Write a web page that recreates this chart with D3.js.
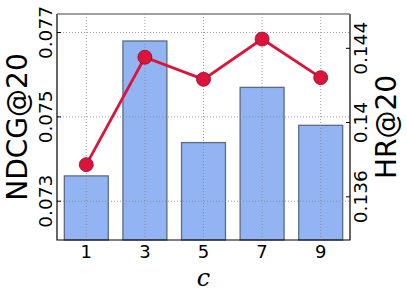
<!DOCTYPE html>
<html>
<head>
<meta charset="UTF-8">
<script src="https://cdn.jsdelivr.net/npm/d3@7"></script>
<style>
  body { margin: 0; background: #fff; }
  svg { display: block; font-family: "DejaVu Sans", sans-serif; }
  .grid line { stroke: #888; stroke-width: 0.8; stroke-dasharray: 1,2; }
</style>
</head>
<body>
<svg id="chart" width="407" height="298"></svg>
<script>
// values
const cValues = [1, 3, 5, 7, 9];
const ndcg = [0.0736, 0.0768, 0.07439, 0.0757, 0.0748];
const hr = [0.13773, 0.14352, 0.14233, 0.1445, 0.14242];
const ndcgTicks = [0.073, 0.075, 0.077];
const ndcgTickLabels = ["0.073", "0.075", "0.077"];
const hrTicks = [0.136, 0.14, 0.144];
const hrTickLabels = ["0.136", "0.14", "0.144"];

const pl = 57, pr = 350, pt = 14, pb = 240;
const svg = d3.select("#chart");

const x = d3.scaleLinear().domain([0, 10]).range([pl, pr]);
const yL = d3.scaleLinear().domain([0.07208, 0.07744]).range([pb, pt]);
const yR = d3.scaleLinear().domain([0.13367, 0.14585]).range([pb, pt]);

// bars (NDCG)
svg.append("g").selectAll("rect")
  .data(ndcg)
  .join("rect")
  .attr("x", (d, i) => x(cValues[i] - 0.75))
  .attr("width", x(1.5) - x(0))
  .attr("y", d => yL(d))
  .attr("height", d => pb - yL(d))
  .attr("fill", "#92b4f2")
  .attr("stroke", "#5b6b88")
  .attr("stroke-width", 1.3);

// grid
const grid = svg.append("g").attr("class", "grid");
grid.selectAll("line.v").data(cValues).join("line")
  .attr("class", "v")
  .attr("x1", d => x(d)).attr("x2", d => x(d))
  .attr("y1", pt).attr("y2", pb);
grid.selectAll("line.h").data(ndcgTicks).join("line")
  .attr("class", "h")
  .attr("x1", pl).attr("x2", pr)
  .attr("y1", d => yL(d)).attr("y2", d => yL(d));

// line (HR)
const line = d3.line().x((d, i) => x(cValues[i])).y(d => yR(d));
svg.append("path")
  .datum(hr)
  .attr("d", line)
  .attr("fill", "none")
  .attr("stroke", "#dc143c")
  .attr("stroke-width", 2.8);
svg.append("g").selectAll("circle")
  .data(hr)
  .join("circle")
  .attr("cx", (d, i) => x(cValues[i]))
  .attr("cy", d => yR(d))
  .attr("r", 7)
  .attr("fill", "#dc143c")
  .attr("stroke", "#8a0c26")
  .attr("stroke-width", 0.8);

// frame
svg.append("path")
  .attr("d", `M${pl},${pt}V${pb}H${pr}V${pt}`)
  .attr("fill", "none").attr("stroke", "#000").attr("stroke-width", 1.2);
svg.append("line").attr("x1", pl).attr("x2", pr).attr("y1", pt).attr("y2", pt)
  .attr("stroke", "#808080").attr("stroke-width", 1.3);

// left ticks
svg.append("g").selectAll("line").data(ndcgTicks).join("line")
  .attr("x1", pl).attr("x2", pl + 4)
  .attr("y1", d => yL(d)).attr("y2", d => yL(d))
  .attr("stroke", "#000");
svg.append("g").selectAll("text").data(ndcgTicks).join("text")
  .attr("transform", d => `translate(52,${yL(d)}) rotate(-90)`)
  .attr("text-anchor", "middle")
  .attr("font-size", 18.5)
  .text((d, i) => ndcgTickLabels[i]);

// right ticks
svg.append("g").selectAll("line").data(hrTicks).join("line")
  .attr("x1", pr - 4).attr("x2", pr)
  .attr("y1", d => yR(d)).attr("y2", d => yR(d))
  .attr("stroke", "#000");
svg.append("g").selectAll("text").data(hrTicks).join("text")
  .attr("transform", d => `translate(367,${yR(d)}) rotate(-90)`)
  .attr("text-anchor", "middle")
  .attr("font-size", 18.5)
  .text((d, i) => hrTickLabels[i]);

// x ticks
svg.append("g").selectAll("text").data(cValues).join("text")
  .attr("x", d => x(d)).attr("y", 258)
  .attr("text-anchor", "middle")
  .attr("font-size", 18)
  .text(d => d);

// axis titles
svg.append("text")
  .attr("transform", `translate(27,${(pt + pb) / 2}) rotate(-90)`)
  .attr("text-anchor", "middle")
  .attr("font-size", 28)
  .text("NDCG@20");
svg.append("text")
  .attr("transform", `translate(396,${(pt + pb) / 2}) rotate(-90)`)
  .attr("text-anchor", "middle")
  .attr("font-size", 28)
  .text("HR@20");
svg.append("text")
  .attr("x", (pl + pr) / 2).attr("y", 286)
  .attr("text-anchor", "middle")
  .attr("font-family", "DejaVu Serif, serif")
  .attr("font-style", "italic")
  .attr("font-size", 24)
  .text("c");
</script>
</body>
</html>
